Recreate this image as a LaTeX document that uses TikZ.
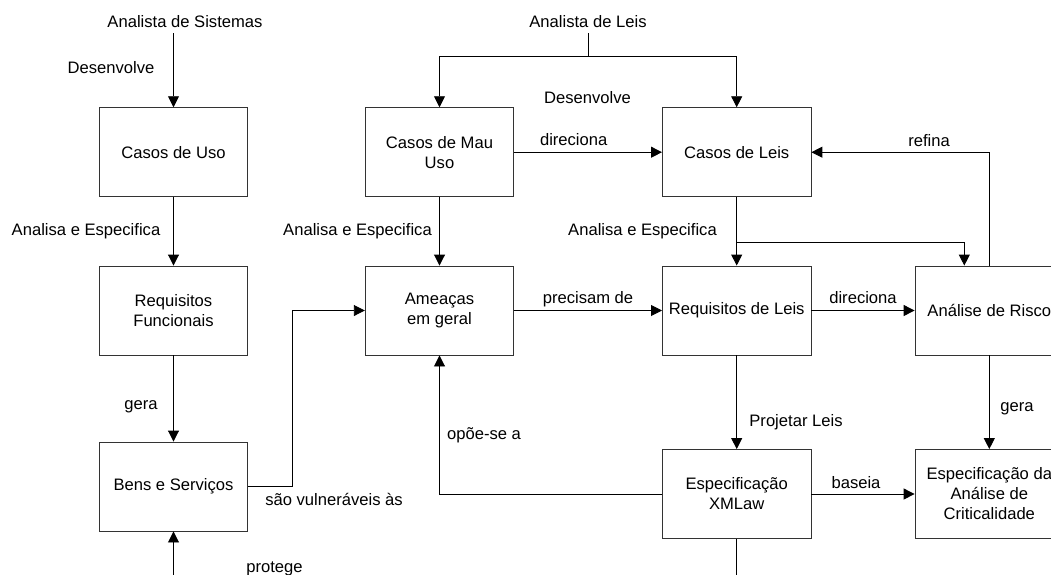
\documentclass[tikz,border=0pt]{standalone}
\usepackage{fontspec}
\setmainfont{Liberation Sans}
\usetikzlibrary{arrows.meta,calc}
\newcommand{\fs}{\fontsize{16.6}{20}\selectfont}
\begin{document}
\begin{tikzpicture}[x=1pt,y=-1pt,
  box/.style={draw=black!80, line width=0.9pt, minimum width=148.5pt, minimum height=89pt, align=center, inner sep=0pt, font=\fs},
  lbl/.style={inner sep=0pt, anchor=base, font=\fs},
  conn/.style={draw=black, line width=0.9pt},
  arr/.style={conn, -{Triangle[length=11pt,width=11pt]}}]
\useasboundingbox (0,0) rectangle (1051,574);
\clip (0,0) rectangle (1051,574);
% boxes
\node[box] (cu)  at (173.5,152.2) {Casos de Uso};
\node[box] (rf)  at (173.5,310.5) {Requisitos\\Funcionais};
\node[box] (bs)  at (173.5,486.5) {Bens e Serviços};
\node[box] (cmu) at (439.5,152.2) {Casos de Mau\\Uso};
\node[box] (am)  at (439.5,310.5) {Ameaças\\em geral};
\node[box] (cl)  at (736.7,152.2) {Casos de Leis};
\node[box] (rl)  at (736.7,310.5) {Requisitos de Leis};
\node[box] (xml) at (736.7,494) {Especificação\\XMLaw};
\node[box] (ar)  at (989.3,310.5) {Análise de Risco};
\node[box] (eac) at (989.3,494) {Especificação da\\Análise de\\Criticalidade};
% free texts
\node[lbl] (as) at (185,27) {Analista de Sistemas};
\node[lbl] (al) at (588,27) {Analista de Leis};
\node[lbl] at (111,73) {Desenvolve};
\node[lbl] at (587.5,103) {Desenvolve};
\node[lbl] at (86,235) {Analisa e Especifica};
\node[lbl] at (357.5,235) {Analisa e Especifica};
\node[lbl] at (642.5,235) {Analisa e Especifica};
\node[lbl] at (141,409) {gera};
\node[lbl] at (1017,411) {gera};
\node[lbl] at (274.5,572) {protege};
\node[lbl] at (573.7,145) {direciona};
\node[lbl] at (863,303.3) {direciona};
\node[lbl] at (929,146) {refina};
\node[lbl] at (588,303.6) {precisam de};
\node[lbl] at (334,505) {são vulneráveis às};
\node[lbl] at (484,439) {opõe-se a};
\node[lbl] at (796,426.7) {Projetar Leis};
\node[lbl] at (856,488) {baseia};
% connectors
\draw[arr] (cu.north |- 0,33) -- (cu.north);
\coordinate (alj) at (588,56);
\draw[conn] (alj |- 0,33) -- (alj);
\draw[arr] (alj) -| (cmu.north);
\draw[arr] (alj) -| (cl.north);
\draw[arr] (cu.south) -- (rf.north);
\draw[arr] (rf.south) -- (bs.north);
\draw[arr] (bs.south |- 0,590) -- (bs.south);
\draw[arr] (bs.east) -- ++(44,0) |- (am.west);
\draw[arr] (cmu.east) -- (cl.west);
\draw[arr] (cmu.south) -- (am.north);
\draw[arr] (am.east) -- (rl.west);
\draw[arr] (cl.south) -- (rl.north);
\draw[arr] (cl.south |- 0,242) -| ($(ar.north)+(-25,0)$);
\draw[arr] (ar.north) |- (cl.east);
\draw[arr] (rl.east) -- (ar.west);
\draw[arr] (rl.south) -- (xml.north);
\draw[arr] (ar.south) -- (eac.north);
\draw[arr] (xml.east) -- (eac.west);
\draw[arr] (xml.west) -| (am.south);
\draw[conn] (xml.south) -- (xml.south |- 0,590);
\end{tikzpicture}
\end{document}
